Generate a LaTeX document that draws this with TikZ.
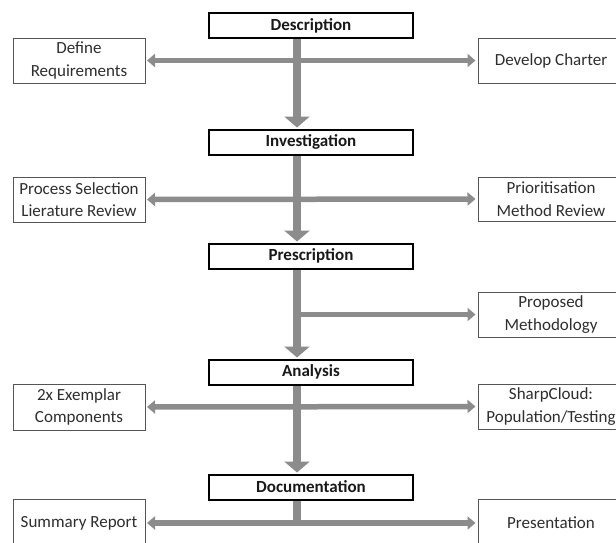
\documentclass[tikz,border=0pt]{standalone}
\usepackage{fontspec}
\setmainfont{Carlito}
\usetikzlibrary{arrows.meta}
\definecolor{arrgray}{HTML}{8C8C8C}
\definecolor{boxline}{HTML}{555555}
\definecolor{txt}{HTML}{2E2E2E}
\begin{document}
\begin{tikzpicture}[x=1pt,y=-1pt,
 stepbox/.style={draw=black, line width=2pt, fill=white, minimum width=204pt, minimum height=25pt, inner sep=0pt, font=\fontsize{17}{20}\selectfont\bfseries, text=black!90},
 subbox/.style={draw=boxline, line width=1pt, fill=white, inner sep=0pt, align=center, font=\fontsize{17}{22.5}\selectfont, text=txt},
 leftbox/.style={subbox, minimum width=132pt},
 rightbox/.style={subbox, minimum width=146pt},
 harrow/.style={draw=arrgray, line width=5.5pt, {Triangle[width=13pt,length=8pt]}-{Triangle[width=13pt,length=8pt]}, shorten <=1.5pt, shorten >=2pt},
 rarrow/.style={draw=arrgray, line width=5.5pt, -{Triangle[width=13pt,length=8pt]}, shorten >=2pt},
 varrow/.style={draw=arrgray, line width=8.5pt, -{Triangle[width=25pt,length=11pt]}, shorten >=1pt},
 vline/.style={draw=arrgray, line width=8.5pt},
]
\clip (0,0) rectangle (616,542);
\fill[white] (0,0) rectangle (616,542);

% main steps
\node[stepbox] (desc) at (311,25.5) {Description};
\node[stepbox] (inv)  at (311,142) {Investigation};
\node[stepbox] (presc) at (311,256) {Prescription};
\node[stepbox] (anal) at (311,372) {Analysis};
\node[stepbox] (doc)  at (311,487) {Documentation};

% left boxes
\node[leftbox, minimum height=45pt] (defreq) at (79,60.5) {Define\\Requirements};
\node[leftbox, minimum height=45pt] (procsel) at (79,199.5) {Process Selection\\Lierature Review};
\node[leftbox, minimum height=46pt] (exemp) at (79,407) {2x Exemplar\\Components};
\node[leftbox, minimum height=48pt] (sumrep) at (79,523) {Summary Report};

% right boxes
\node[rightbox, minimum height=45pt] (devch) at (551,60.5) {Develop Charter};
\node[rightbox, minimum height=44pt] (prio) at (551,199) {Prioritisation\\Method Review};
\node[rightbox, minimum height=45pt] (propm) at (551,314.5) {Proposed\\Methodology};
\node[rightbox, minimum height=45pt] (sharp) at (551,406.5) {SharpCloud:\\Population/Testing};
\node[rightbox, minimum height=48pt] (pres) at (551,523) {Presentation};

% horizontal arrows
\draw[harrow] (defreq.east) -- (devch.west);
\draw[harrow] (procsel.east) -- (prio.west);
\draw[harrow] (exemp.east) -- (sharp.west);
\coordinate (br) at ([xshift=-14pt]presc.south |- propm.west);
\draw[rarrow] (br) -- (propm.west);

% vertical arrows
\draw[varrow] ([xshift=-14pt]desc.south) -- ([xshift=-14pt]inv.north);
\draw[varrow] ([xshift=-14pt]inv.south) -- ([xshift=-14pt]presc.north);
\draw[varrow] ([xshift=-14pt]presc.south) -- ([xshift=-14pt]anal.north);
\draw[varrow] ([xshift=-14pt]anal.south) -- ([xshift=-14pt]doc.north);
\coordinate (dj) at ([xshift=-14pt]doc.south |- sumrep.east);
\draw[vline] ([xshift=-14pt]doc.south) -- (dj);
\draw[harrow] (sumrep.east) -- (pres.west);
\end{tikzpicture}
\end{document}
